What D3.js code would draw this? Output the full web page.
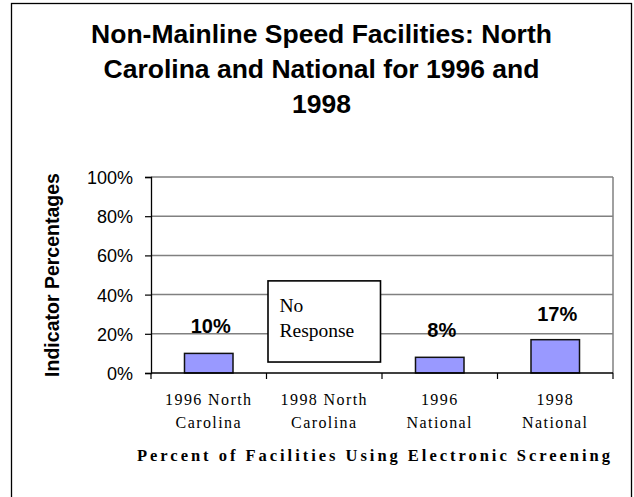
<!DOCTYPE html>
<html>
<head>
<meta charset="utf-8">
<script src="https://cdn.jsdelivr.net/npm/d3@7"></script>
<style>
body { margin:0; background:#fff; }
.sans { font-family: "Liberation Sans", Arial, sans-serif; }
.serif { font-family: "Liberation Serif", "Times New Roman", serif; }
</style>
</head>
<body>
<svg id="chart" width="634" height="497"></svg>
<script>
// donnees
var categories = ["1996 North Carolina", "1998 North Carolina", "1996 National", "1998 National"];
var catLines = [["1996 North", "Carolina"], ["1998 North", "Carolina"], ["1996", "National"], ["1998", "National"]];
var values = [10, null, 8, 17];
var yTicks = [0, 20, 40, 60, 80, 100];
var titleLines = ["Non-Mainline Speed Facilities: North", "Carolina and National for 1996 and", "1998"];
var noResponse = {cat: "1998 North Carolina", top: 47, bottom: 5.6, lines: ["No", "Response"]};

var svg = d3.select("#chart");
var margin = {left:151, right:21, top:177, bottom:124};
var W = 634, H = 497;

// cadre exterieur
svg.append("rect")
    .attr("x", 11.5).attr("y", 3.5)
    .attr("width", 620).attr("height", 500)
    .attr("fill", "#fff").attr("stroke", "#000").attr("stroke-width", 1.3);

// titre
svg.append("text").attr("class", "sans")
    .attr("text-anchor", "middle")
    .style("font-weight", "bold").style("font-size", "26.5px")
    .selectAll("tspan").data(titleLines).enter().append("tspan")
    .attr("x", 321.5)
    .attr("y", function(d,i){ return 43 + i*35; })
    .text(function(d){ return d; });

var x = d3.scaleBand().domain(categories).range([margin.left, W - margin.right]).padding(0);
var y = d3.scaleLinear().domain([0, 100]).range([H - margin.bottom, margin.top]);

var g = svg.append("g");

// grille
g.selectAll("line.grid").data(yTicks.filter(function(d){return d>0;})).enter().append("line")
    .attr("x1", x.range()[0]).attr("x2", x.range()[1])
    .attr("y1", function(d){ return y(d); }).attr("y2", function(d){ return y(d); })
    .attr("stroke", "#808080").attr("stroke-width", 1.5);
// bord droit
g.append("line")
    .attr("x1", x.range()[1]).attr("x2", x.range()[1])
    .attr("y1", y(0)).attr("y2", y(100))
    .attr("stroke", "#808080").attr("stroke-width", 1.5);

// axe Y
var yAxis = g.append("g")
    .attr("transform", "translate(" + x.range()[0] + ",0)")
    .call(d3.axisLeft(y).tickValues(yTicks).tickSize(6).tickPadding(12)
	  .tickFormat(function(d){ return d + "%"; }));
yAxis.select(".domain").attr("stroke", "#000").attr("stroke-width", 1.3);
yAxis.selectAll(".tick line").attr("stroke", "#000").attr("stroke-width", 1.2);
yAxis.selectAll(".tick text").attr("class", "sans")
    .style("font-size", "18px").attr("fill", "#000").attr("dy", "0.36em");

// barres
g.selectAll("rect.bar").data(categories.filter(function(d,i){ return values[i] != null; })).enter()
    .append("rect")
    .attr("x", function(d){ return x(d) + x.bandwidth()*0.29; })
    .attr("width", x.bandwidth()*0.42)
    .attr("y", function(d){ return y(values[categories.indexOf(d)]); })
    .attr("height", function(d){ return y(0) - y(values[categories.indexOf(d)]); })
    .attr("fill", "#9999FF").attr("stroke", "#111").attr("stroke-width", 1.5);

// axe X (ticks aux limites)
var xs = categories.map(function(d){ return x(d); }).concat([x.range()[1]]);
g.selectAll("line.xtick").data(xs).enter().append("line")
    .attr("x1", function(d){ return d; }).attr("x2", function(d){ return d; })
    .attr("y1", y(0)).attr("y2", y(0) + 6)
    .attr("stroke", "#000").attr("stroke-width", 1.2);
g.append("line")
    .attr("x1", x.range()[0]).attr("x2", x.range()[1])
    .attr("y1", y(0)).attr("y2", y(0))
    .attr("stroke", "#000").attr("stroke-width", 1.3);

// etiquettes categories
g.selectAll("text.cat").data(categories).enter().append("text")
    .attr("class", "serif")
    .attr("text-anchor", "middle")
    .style("font-size", "16px").style("letter-spacing", "1.4px")
    .each(function(d,i){
	d3.select(this).selectAll("tspan").data(catLines[i]).enter().append("tspan")
	    .attr("x", x(d) + x.bandwidth()/2)
	    .attr("y", function(t,j){ return 405 + j*23; })
	    .text(function(t){ return t; });
    });

// valeurs
g.selectAll("text.val").data(categories.filter(function(d,i){ return values[i] != null; })).enter()
    .append("text").attr("class", "sans")
    .attr("text-anchor", "middle")
    .style("font-weight", "bold").style("font-size", "20px")
    .attr("x", function(d){ return x(d) + x.bandwidth()/2 + 2; })
    .attr("y", function(d){
	var v = values[categories.indexOf(d)];
	return y(v) - (v > 12 ? 19 : 20);
    })
    .text(function(d){ return values[categories.indexOf(d)] + "%"; });

// boite "No Response"
g.append("rect")
    .attr("x", x(noResponse.cat) + 1.5)
    .attr("width", x.bandwidth() - 3)
    .attr("y", y(noResponse.top))
    .attr("height", y(noResponse.bottom) - y(noResponse.top))
    .attr("fill", "#fff").attr("stroke", "#000").attr("stroke-width", 1.6);
g.append("text").attr("class", "serif")
    .style("font-size", "19.5px")
    .selectAll("tspan").data(noResponse.lines).enter().append("tspan")
    .attr("x", x(noResponse.cat) + 13)
    .attr("y", function(d,i){ return y(noResponse.top) + 31 + i*25; })
    .text(function(d){ return d; });

// titre axe Y
svg.append("text").attr("class", "sans")
    .attr("text-anchor", "middle")
    .attr("transform", "translate(59," + ((y(0)+y(100))/2) + ") rotate(-90)")
    .style("font-weight", "bold").style("font-size", "19.5px")
    .text("Indicator Percentages");

// titre axe X
svg.append("text").attr("class", "serif")
    .attr("x", 137).attr("y", 461)
    .attr("textLength", 473).attr("lengthAdjust", "spacing")
    .style("font-weight", "bold").style("font-size", "16.5px")
    .text("Percent of Facilities Using Electronic Screening");
</script>
</body>
</html>
